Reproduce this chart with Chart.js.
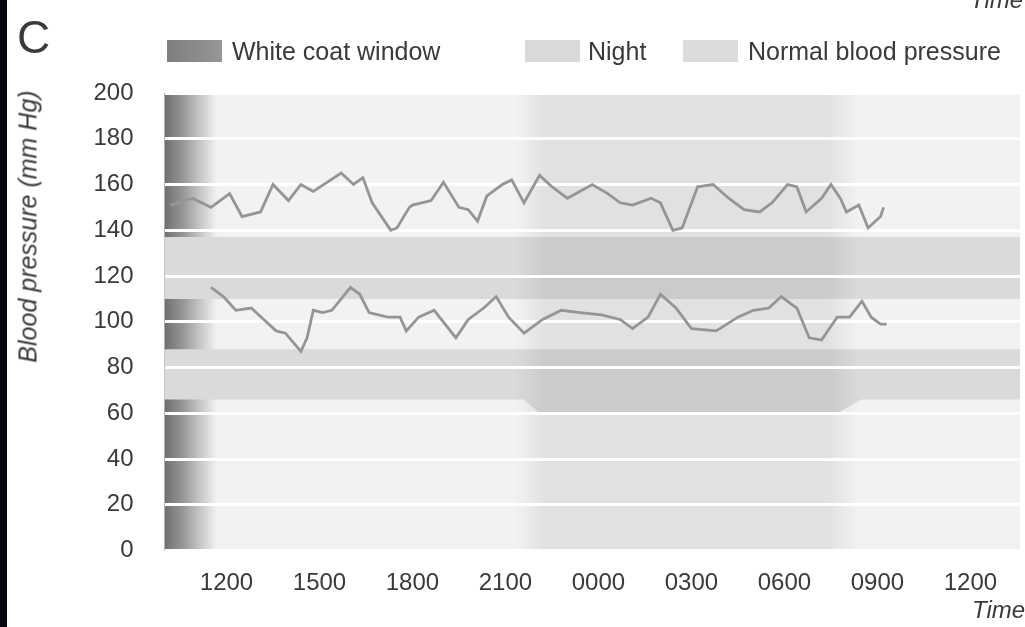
<!DOCTYPE html>
<html lang="en">
<head>
<meta charset="UTF-8">
<title>Ambulatory blood pressure - C</title>
<script src="https://cdn.jsdelivr.net/npm/chart.js"></script>
<style>
body { margin:0; padding:0; background:#fff; font-family:"Liberation Sans", Arial, sans-serif; color:#3a3a3a; overflow:hidden; }
#wrap { position:relative; width:1025px; height:627px; filter:blur(0.6px); }
#chart { position:absolute; left:0; top:0; }
.txt { position:absolute; line-height:1; white-space:nowrap; }
.box { position:absolute; top:40px; width:55px; height:22px; }
</style>
</head>
<body>
<div id="wrap">
<canvas id="chart" width="1025" height="627"></canvas>

<div style="position:absolute;left:0;top:0;width:7px;height:627px;background:#05080f;"></div>
<div class="txt" style="left:17px;top:14px;font-size:46px;">C</div>
<div class="txt" style="left:970px;top:-12px;font-size:24px;font-style:italic;">Time</div>

<!-- legend -->
<div class="box" style="left:167px;background:linear-gradient(90deg,#7e7e7e,#969696);"></div>
<div class="txt" style="left:232px;top:39px;font-size:25px;">White coat window</div>
<div class="box" style="left:525px;background:#d9d9d9;"></div>
<div class="txt" style="left:588px;top:39px;font-size:25px;">Night</div>
<div class="box" style="left:683px;background:#dcdcdc;"></div>
<div class="txt" style="left:748px;top:39px;font-size:25px;">Normal blood pressure</div>

<div class="txt" style="left:-122px;top:214px;width:300px;text-align:center;font-size:25px;font-style:italic;transform:rotate(-90deg);">Blood pressure (mm Hg)</div>
<div class="txt" style="left:972px;top:598px;font-size:24px;font-style:italic;">Time</div>
</div>

<script>
// time in hours from midnight of day 1 (24 = 0000 next day)
const xTickValues = [12, 15, 18, 21, 24, 27, 30, 33, 36];
const xTickLabels = ['1200', '1500', '1800', '2100', '0000', '0300', '0600', '0900', '1200'];

const sysTimes = [10.2, 10.9, 11.5, 12.1, 12.5, 13.1, 13.5, 14.0, 14.4, 14.8, 15.7, 16.1, 16.4, 16.7, 17.3, 17.5, 17.9,
  18.0, 18.6, 19.0, 19.5, 19.8, 20.1, 20.4, 20.9, 21.2, 21.6, 22.1, 22.5, 23.0, 23.8, 24.3, 24.7, 25.1, 25.7,
  26.0, 26.4, 26.7, 27.2, 27.7, 28.2, 28.7, 29.2, 29.6, 30.1, 30.4, 30.7, 31.2, 31.5, 31.8, 32.0, 32.4, 32.7, 33.1, 33.2];
const sysValues = [151, 154, 150, 156, 146, 148, 160, 153, 160, 157, 165, 160, 163, 152, 140, 141, 150,
  151, 153, 161, 150, 149, 144, 155, 160, 162, 152, 164, 159, 154, 160, 156, 152, 151, 154,
  152, 140, 141, 159, 160, 154, 149, 148, 152, 160, 159, 148, 154, 160, 154, 148, 151, 141, 146, 150];

const diaTimes = [11.5, 11.9, 12.3, 12.8, 13.2, 13.6, 13.9, 14.4, 14.6, 14.8, 15.1, 15.4, 16.0, 16.3, 16.6, 17.2, 17.6, 17.8,
  18.2, 18.7, 19.4, 19.8, 20.3, 20.7, 21.1, 21.6, 22.2, 22.8, 23.4, 24.1, 24.7, 25.1, 25.6,
  26.0, 26.5, 27.0, 27.8, 28.5, 29.0, 29.5, 29.9, 30.4, 30.8, 31.2, 31.7, 32.1, 32.5, 32.8, 33.1, 33.3];
const diaValues = [115, 111, 105, 106, 101, 96, 95, 87, 93, 105, 104, 105, 115, 112, 104, 102, 102, 96,
  102, 105, 93, 101, 106, 111, 102, 95, 101, 105, 104, 103, 101, 97, 102,
  112, 106, 97, 96, 102, 105, 106, 111, 106, 93, 92, 102, 102, 109, 102, 99, 99];

// shaded regions
const whiteCoat = [10, 11.7];
const night = [21.8, 31.9];
const nightFade = 0.5;
const normTimes = [10, 21.6, 22.1, 31.7, 32.5, 37.6];
const normSysTop = [137, 137, 137, 137, 137, 137];
const normSysBottom = [110, 110, 110, 110, 110, 110];
const normDiaTop = [88, 88, 88, 88, 88, 88];
const normDiaBottom = [66, 66, 60, 60, 66, 66];

const textColor = '#3a3a3a';
const lineColor = '#959595';

const shadePlugin = {
  id: 'shade',
  beforeDraw(chart) {
    const { ctx, chartArea: a, scales: { x, y } } = chart;
    ctx.save();
    ctx.fillStyle = '#f2f2f2';
    ctx.fillRect(a.left, a.top, a.width, a.height);

    // white coat window
    const w0 = x.getPixelForValue(whiteCoat[0]), w1 = x.getPixelForValue(whiteCoat[1]);
    const wg = ctx.createLinearGradient(w0, 0, w1, 0);
    wg.addColorStop(0, 'rgba(110,110,110,1)');
    wg.addColorStop(0.35, 'rgba(120,120,120,0.75)');
    wg.addColorStop(1, 'rgba(130,130,130,0)');
    ctx.fillStyle = wg;
    ctx.fillRect(w0, a.top, w1 - w0, a.height);

    // normal blood pressure bands
    const band = (top, bottom) => {
      ctx.beginPath();
      normTimes.forEach((t, i) => {
        const px = x.getPixelForValue(t), py = y.getPixelForValue(top[i]);
        i ? ctx.lineTo(px, py) : ctx.moveTo(px, py);
      });
      for (let i = normTimes.length - 1; i >= 0; i--) {
        ctx.lineTo(x.getPixelForValue(normTimes[i]), y.getPixelForValue(bottom[i]));
      }
      ctx.closePath();
      ctx.fill();
    };
    ctx.fillStyle = '#dadada';
    band(normSysTop, normSysBottom);
    band(normDiaTop, normDiaBottom);

    // night
    const n0 = x.getPixelForValue(night[0] - nightFade), n1 = x.getPixelForValue(night[1] + nightFade);
    const f = (x.getPixelForValue(night[0] + nightFade) - n0) / (n1 - n0);
    const ng = ctx.createLinearGradient(n0, 0, n1, 0);
    ng.addColorStop(0, 'rgba(0,0,0,0)');
    ng.addColorStop(f, 'rgba(0,0,0,0.07)');
    ng.addColorStop(1 - f, 'rgba(0,0,0,0.07)');
    ng.addColorStop(1, 'rgba(0,0,0,0)');
    ctx.fillStyle = ng;
    ctx.fillRect(n0, a.top, n1 - n0, a.height);
    ctx.restore();
  }
};

const toPoints = (ts, vs) => ts.map((t, i) => ({ x: t, y: vs[i] }));

new Chart(document.getElementById('chart'), {
  type: 'line',
  data: {
    datasets: [
      { label: 'Systolic', data: toPoints(sysTimes, sysValues), borderColor: lineColor, borderWidth: 2.8, pointRadius: 0, tension: 0 },
      { label: 'Diastolic', data: toPoints(diaTimes, diaValues), borderColor: lineColor, borderWidth: 2.8, pointRadius: 0, tension: 0 }
    ]
  },
  options: {
    responsive: false,
    animation: false,
    layout: { padding: { top: 93, right: 5, left: 0, bottom: 0 } },
    plugins: { legend: { display: false }, tooltip: { enabled: false } },
    scales: {
      x: {
        type: 'linear', min: 10, max: 37.6,
        afterBuildTicks: s => { s.ticks = xTickValues.map(v => ({ value: v })); },
        afterFit: s => { s.height = 76.5; },
        ticks: { callback: (v, i) => xTickLabels[i], autoSkip: false, maxRotation: 0, padding: 10,
          color: textColor, font: { family: '"Liberation Sans", Arial, sans-serif', size: 24 } },
        grid: { display: false },
        border: { display: false }
      },
      y: {
        min: 0, max: 200,
        afterFit: s => { s.width = 164.5; },
        ticks: { stepSize: 20, padding: 31, color: textColor, font: { family: '"Liberation Sans", Arial, sans-serif', size: 24 } },
        grid: { color: '#ffffff', lineWidth: 3, drawTicks: false },
        border: { display: false }
      }
    }
  },
  plugins: [shadePlugin]
});
</script>
</body>
</html>
